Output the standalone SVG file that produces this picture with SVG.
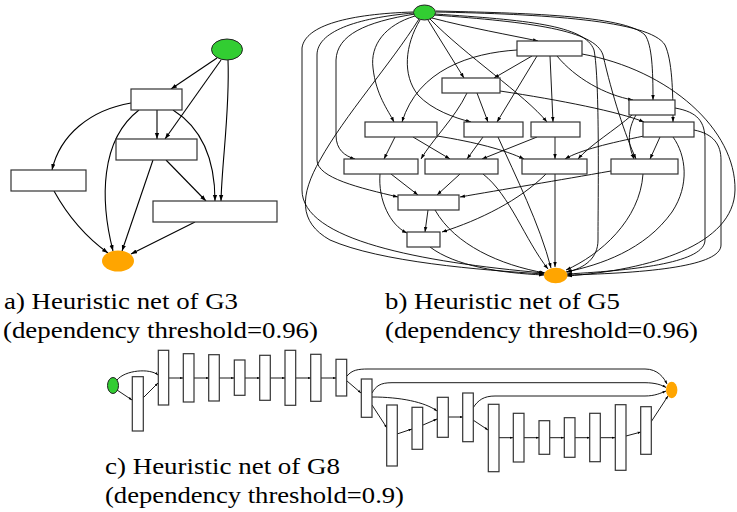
<svg xmlns="http://www.w3.org/2000/svg" width="737" height="512" viewBox="0 0 737 512">
<style>
.n{fill:#fff;stroke:#333;stroke-width:1.2}
.s{fill:#32cd32;stroke:#222;stroke-width:1}
.e{fill:#ffa500;stroke:none}
.ea path{fill:none;stroke:#000;stroke-width:1.1;marker-end:url(#am)}
.eb path{fill:none;stroke:#000;stroke-width:0.9;marker-end:url(#ab)}
.ec path{fill:none;stroke:#000;stroke-width:0.9;marker-end:url(#ac)}
.t{font-family:"Liberation Serif","DejaVu Serif",serif;font-size:23px;fill:#000}
</style>
<defs>
<marker id="am" viewBox="0 0 10 10" refX="10" refY="5" markerWidth="6" markerHeight="6" markerUnits="userSpaceOnUse" orient="auto"><path d="M0,1.5 L10,5 L0,8.5 z" fill="#000"/></marker>
<marker id="ab" viewBox="0 0 10 10" refX="10" refY="5" markerWidth="5" markerHeight="5" markerUnits="userSpaceOnUse" orient="auto"><path d="M0,1.5 L10,5 L0,8.5 z" fill="#000"/></marker>
<marker id="ac" viewBox="0 0 10 10" refX="10" refY="5" markerWidth="3.5" markerHeight="3.5" markerUnits="userSpaceOnUse" orient="auto"><path d="M0,1.5 L10,5 L0,8.5 z" fill="#000"/></marker>
</defs>

<!-- Panel a -->
<g id="a-connectors" class="ea">
<path d="M217,58 L171,89"/>
<path d="M221,60 L165,139"/>
<path d="M228,60 C230,110 222,160 221,201"/>
<path d="M157,110 L157,139"/>
<path d="M131,103 C90,110 60,135 52,170"/>
<path d="M139,110 C100,140 100,200 113,251"/>
<path d="M173,110 C205,130 215,165 215,201"/>
<path d="M153,160 L122,251"/>
<path d="M166,160 L206,201"/>
<path d="M54,191 C70,220 90,240 108,253"/>
<path d="M195,222 L131,254"/>
</g>
<g id="a-start"><ellipse class="s" cx="227" cy="49.5" rx="15.5" ry="10.5"/></g>
<g id="a-n1"><rect class="n" x="131" y="89" width="51" height="21"/></g>
<g id="a-n2"><rect class="n" x="116" y="139" width="81" height="21"/></g>
<g id="a-n3"><rect class="n" x="11" y="170" width="75" height="21"/></g>
<g id="a-n4"><rect class="n" x="153" y="201" width="124" height="21"/></g>
<g id="a-end"><ellipse class="e" cx="118" cy="261" rx="16" ry="10.5"/></g>

<!-- Panel b -->
<g id="b-connectors" class="eb">
<path d="M432,18 C470,28 510,35 538,41"/>
<path d="M428,20 L464,78"/>
<path d="M415,16 C385,25 370,45 373,68 C376,95 388,110 394,122"/>
<path d="M420,20 C405,45 402,75 418,95 C432,110 455,118 471,122"/>
<path d="M430,19 C465,55 525,95 547,122"/>
<path d="M436,11 C520,13 625,15 645,35 C652,45 653,70 653,100"/>
<path d="M436,12 C540,14 650,20 665,45 C672,60 673,90 673,122"/>
<path d="M434,15 C530,22 595,30 603,55 C612,95 625,135 636,159"/>
<path d="M435,14 C525,20 585,25 594,50 C600,80 598,200 598,240 C598,258 585,268 567,272"/>
<path d="M632,115 C615,130 590,145 578,159"/>
<path d="M413,12 C350,14 305,25 302,48 L302,190 C302,240 420,262 544,273"/>
<path d="M414,13 C355,18 317,32 317,55 L317,160 C317,178 360,188 398,197"/>
<path d="M415,14 C365,22 337,35 336,60 L336,135 C336,150 345,156 355,159"/>
<path d="M419,19 C390,65 345,115 320,160 C300,195 298,222 330,240 C380,262 480,270 544,274"/>
<path d="M532,56 L494,78"/>
<path d="M517,50 C470,53 418,70 402,122"/>
<path d="M537,56 L497,122"/>
<path d="M550,56 L553,122"/>
<path d="M557,56 C575,78 605,95 633,100"/>
<path d="M582,54 C670,70 736,130 735,190 C734,245 650,270 567,276"/>
<path d="M467,93 C455,118 432,140 421,159"/>
<path d="M477,93 L488,122"/>
<path d="M500,91 C560,100 620,112 644,122"/>
<path d="M395,137 L384,159"/>
<path d="M413,137 L450,159"/>
<path d="M437,136 C475,142 505,150 524,159"/>
<path d="M483,137 L467,159"/>
<path d="M498,137 C515,175 540,225 551,268"/>
<path d="M537,137 L482,159"/>
<path d="M555,137 L555,159"/>
<path d="M636,115 C627,130 628,145 634,159"/>
<path d="M675,108 C698,112 705,122 705,140 L705,240 C705,262 640,270 567,274"/>
<path d="M644,136 C610,143 580,150 565,159"/>
<path d="M660,137 L650,159"/>
<path d="M673,137 C686,155 690,185 672,212 C645,250 600,265 566,272"/>
<path d="M694,130 C714,134 721,145 721,160 L721,245 C721,266 650,273 567,275"/>
<path d="M391,174 L418,195"/>
<path d="M380,174 C378,200 390,225 407,233"/>
<path d="M460,174 L437,195"/>
<path d="M483,174 C510,195 525,240 548,269"/>
<path d="M546,174 C520,200 480,220 442,232"/>
<path d="M555,174 L555,267"/>
<path d="M611,171 C560,180 500,190 460,197"/>
<path d="M643,174 C640,220 600,255 566,270"/>
<path d="M428,210 L425,232"/>
<path d="M435,210 C455,245 500,265 545,273"/>
<path d="M430,247 C455,266 500,273 544,275"/>
</g>
<g id="b-start"><ellipse class="s" cx="424.5" cy="12.5" rx="11" ry="7.5"/></g>
<g id="b-n1"><rect class="n" x="517" y="41" width="65" height="15"/></g>
<g id="b-n2"><rect class="n" x="442" y="78" width="58" height="15"/></g>
<g id="b-n3"><rect class="n" x="365" y="122" width="72" height="15"/></g>
<g id="b-n4"><rect class="n" x="464" y="122" width="59" height="15"/></g>
<g id="b-n5"><rect class="n" x="531" y="122" width="49" height="15"/></g>
<g id="b-n6"><rect class="n" x="629" y="100" width="46" height="15"/></g>
<g id="b-n7"><rect class="n" x="643" y="122" width="51" height="15"/></g>
<g id="b-n8"><rect class="n" x="344" y="159" width="74" height="15"/></g>
<g id="b-n9"><rect class="n" x="425" y="159" width="73" height="15"/></g>
<g id="b-n10"><rect class="n" x="522" y="159" width="65" height="15"/></g>
<g id="b-n11"><rect class="n" x="611" y="159" width="67" height="15"/></g>
<g id="b-n12"><rect class="n" x="398" y="195" width="61" height="15"/></g>
<g id="b-n13"><rect class="n" x="407" y="232" width="33" height="15"/></g>
<g id="b-end"><ellipse class="e" cx="555.7" cy="275.5" rx="11.7" ry="7.8"/></g>

<!-- Panel c -->
<g id="c-connectors" class="ec">
<path d="M117,380 C125,370 150,368 158,375"/>
<path d="M117,390 L132,400"/>
<path d="M143,398 L158,383"/>
<path d="M169,378 L183,378"/>
<path d="M194,378 L209,378"/>
<path d="M219,378 L234,378"/>
<path d="M245,378 L260,378"/>
<path d="M270,378 L285,378"/>
<path d="M296,378 L311,378"/>
<path d="M321,378 L336,378"/>
<path d="M347,376 C352,370 358,369 368,369 L645,369 C658,369 664,378 667,384"/>
<path d="M347,381 L361,393"/>
<path d="M372,393 C376,386 380,382.7 392,382.7 L645,382.7 C655,382.7 662,385 666,387.5"/>
<path d="M372,397 C400,397 425,402 437,411"/>
<path d="M372,405 L387,428"/>
<path d="M397,434 L412,429"/>
<path d="M423,425 L437,419"/>
<path d="M448,417 L463,417"/>
<path d="M473,408 C478,400 484,396 495,396 L645,396 C655,396 661,393 666,391"/>
<path d="M473,420 L488,430"/>
<path d="M499,437.7 L513,437.7"/>
<path d="M524,437.7 L539,437.7"/>
<path d="M550,437.7 L564,437.7"/>
<path d="M575,437.7 L590,437.7"/>
<path d="M600,437.7 L615,437.7"/>
<path d="M626,436 L641,432"/>
<path d="M651,422 L668,396"/>
</g>
<g id="c-start"><ellipse class="s" cx="113" cy="385.5" rx="5.5" ry="8"/></g>
<g id="c-n1"><rect class="n" x="132.3" y="376.7" width="11" height="54.3"/></g>
<g id="c-n2"><rect class="n" x="158.3" y="350.3" width="10.4" height="54.7"/></g>
<g id="c-n3"><rect class="n" x="183.3" y="353.7" width="10.7" height="48.3"/></g>
<g id="c-n4"><rect class="n" x="208.7" y="354.7" width="10.6" height="46.3"/></g>
<g id="c-n5"><rect class="n" x="234.3" y="360" width="10.7" height="35.3"/></g>
<g id="c-n6"><rect class="n" x="259.7" y="355.3" width="10.6" height="45"/></g>
<g id="c-n7"><rect class="n" x="285" y="350.3" width="10.7" height="55"/></g>
<g id="c-n8"><rect class="n" x="310.7" y="354.3" width="10.3" height="47"/></g>
<g id="c-n9"><rect class="n" x="336" y="359.3" width="10.7" height="36.7"/></g>
<g id="c-n10"><rect class="n" x="361.3" y="379" width="10.7" height="38.3"/></g>
<g id="c-n11"><rect class="n" x="386.7" y="405" width="10.6" height="61"/></g>
<g id="c-n12"><rect class="n" x="412" y="407.3" width="10.7" height="42"/></g>
<g id="c-n13"><rect class="n" x="437.3" y="397.3" width="11" height="40"/></g>
<g id="c-n14"><rect class="n" x="462.7" y="393" width="10.6" height="48.7"/></g>
<g id="c-n15"><rect class="n" x="488.3" y="404.3" width="10.7" height="67.4"/></g>
<g id="c-n16"><rect class="n" x="513.3" y="413.3" width="10.7" height="48.7"/></g>
<g id="c-n17"><rect class="n" x="539" y="420.7" width="10.7" height="33.6"/></g>
<g id="c-n18"><rect class="n" x="564.3" y="417.7" width="10.7" height="39.6"/></g>
<g id="c-n19"><rect class="n" x="589.7" y="413.3" width="10.6" height="48.4"/></g>
<g id="c-n20"><rect class="n" x="615.3" y="404.7" width="10.7" height="65.6"/></g>
<g id="c-n21"><rect class="n" x="640.7" y="406.7" width="10.6" height="47.6"/></g>
<g id="c-end"><ellipse class="e" cx="671.7" cy="390" rx="5.7" ry="8.3"/></g>

<!-- Captions -->
<g id="captions">
<text class="t" x="4" y="309" textLength="234" lengthAdjust="spacingAndGlyphs">a) Heuristic net of G3</text>
<text class="t" x="3" y="338" textLength="315" lengthAdjust="spacingAndGlyphs">(dependency threshold=0.96)</text>
<text class="t" x="385" y="309" textLength="235" lengthAdjust="spacingAndGlyphs">b) Heuristic net of G5</text>
<text class="t" x="385" y="338" textLength="313" lengthAdjust="spacingAndGlyphs">(dependency threshold=0.96)</text>
<text class="t" x="105" y="474" textLength="235" lengthAdjust="spacingAndGlyphs">c) Heuristic net of G8</text>
<text class="t" x="105" y="503" textLength="299" lengthAdjust="spacingAndGlyphs">(dependency threshold=0.9)</text>
</g>
</svg>
